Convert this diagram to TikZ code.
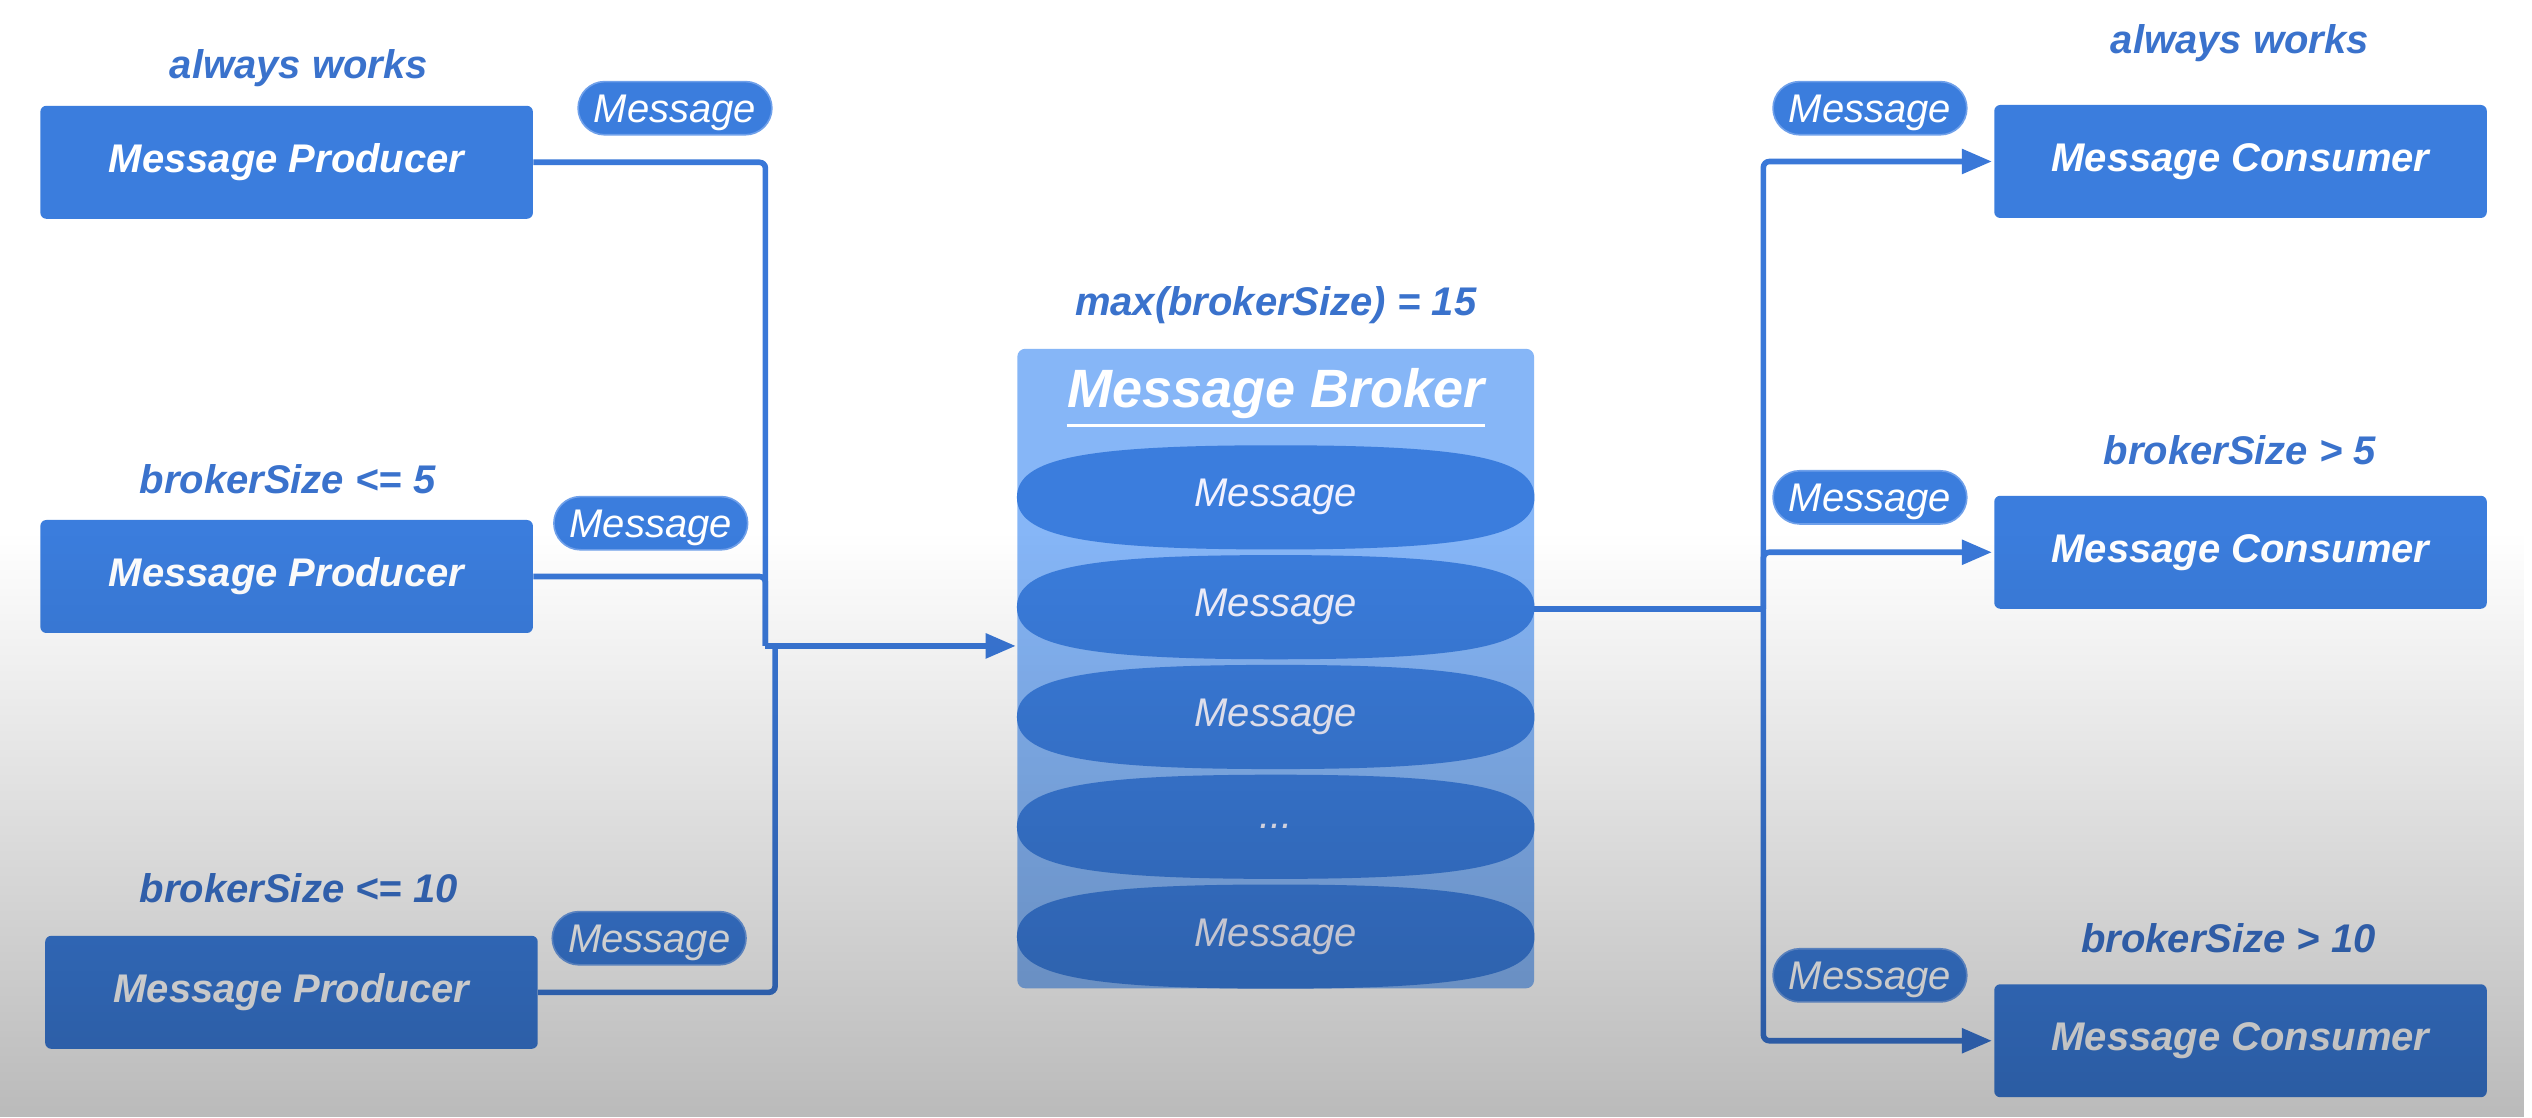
\documentclass[tikz,border=0pt]{standalone}
\usepackage{fontspec}
\setmainfont{Liberation Sans}
\usetikzlibrary{arrows.meta,shapes.geometric,fadings}
\definecolor{boxblue}{HTML}{3B7DDD}
\definecolor{lblblue}{HTML}{3A72CC}
\definecolor{brokerbg}{HTML}{86B6F7}
\definecolor{lineblue}{HTML}{3A78D8}
\definecolor{pillborder}{HTML}{6FA0EA}
\tikzfading[name=fadedown, top color=transparent!100, bottom color=transparent!0]
% full ellipse-like (superellipse) outline drawn around a named node
\newcommand\fullell[1]{%
  \fill[boxblue] (#1.west)
    .. controls ([yshift=19.5pt]#1.west) and ([xshift=-96pt]#1.north) .. (#1.north)
    .. controls ([xshift=96pt]#1.north) and ([yshift=19.5pt]#1.east) .. (#1.east)
    .. controls ([yshift=-19.5pt]#1.east) and ([xshift=96pt]#1.south) .. (#1.south)
    .. controls ([xshift=-96pt]#1.south) and ([yshift=-19.5pt]#1.west) .. (#1.west) -- cycle;}
\begin{document}
\begin{tikzpicture}[x=0.8075pt,y=-0.8075pt,
  actor/.style={fill=boxblue, rounded corners=3pt, minimum width=246.3pt, minimum height=56.5pt,
    inner sep=0pt, text=white, font=\fontsize{20}{24}\selectfont\bfseries\itshape},
  pill/.style={fill=boxblue, draw=pillborder, line width=0.8pt, rounded corners=13.3pt,
    minimum width=96.9pt, minimum height=26.6pt, inner sep=0pt, text=white,
    text height=14.5pt, text depth=0pt,
    font=\fontsize{20}{24}\selectfont\itshape},
  lbl/.style={text=lblblue, font=\fontsize{20}{24}\selectfont\bfseries\itshape, inner sep=0pt},
  msg/.style={rectangle, minimum width=258.4pt, minimum height=51.7pt, inner sep=0pt,
    text=white!95!blue, font=\fontsize{20}{24}\selectfont\itshape},
  conn/.style={draw=lineblue, line width=2.8pt, rounded corners=3pt},
  arr/.style={conn, -{Triangle[length=15pt,width=12pt]}}
]
% background
\fill[white] (0,0) rectangle (1568,692);
\useasboundingbox (0,0) rectangle (1568,692);

% broker
\node[fill=brokerbg, rounded corners=4pt, minimum width=258.4pt, minimum height=319.8pt, inner sep=0pt] (bro) at (790,414) {};
\node[text=white, font=\fontsize{27}{32}\selectfont\bfseries\itshape, inner sep=0pt] (btitle) at (790,244) {Message Broker};
\draw[white, line width=1.8pt] ([yshift=-3pt]btitle.south west) -- ([yshift=-3pt]btitle.south east);
\node[lbl] (bmax) at (790,189) {max(brokerSize) = 15};
\node[msg] (m1) at (790,308) {};
\node[msg] (m2) at (790,376) {};
\node[msg] (m3) at (790,444) {};
\node[msg] (m4) at (790,512) {};
\node[msg] (m5) at (790,580) {};
\fullell{m1}\fullell{m2}\fullell{m3}\fullell{m4}\fullell{m5}
\node[msg] at (m1) {Message};
\node[msg] at (m2) {Message};
\node[msg] at (m3) {Message};
\node[msg] at (m4) {...};
\node[msg] at (m5) {Message};

% producers
\node[actor] (p1) at (177.5,100.5) {Message Producer};
\node[actor] (p2) at (177.5,357) {Message Producer};
\node[actor] (p3) at (180.5,614.5) {Message Producer};
\node[lbl] (lp1) at (185,42) {always works};
\node[lbl] (lp2) at (178,297) {brokerSize <= 5};
\node[lbl] (lp3) at (185,550) {brokerSize <= 10};
\node[pill] (q1) at (418,67) {Message};
\node[pill] (q2) at (403,324) {Message};
\node[pill] (q3) at (402,581) {Message};

% consumers
\node[actor] (c1) at (1387.5,100) {Message Consumer};
\node[actor] (c2) at (1387.5,342) {Message Consumer};
\node[actor] (c3) at (1387.5,644.5) {Message Consumer};
\node[lbl] (lc1) at (1387,27) {always works};
\node[lbl] (lc2) at (1387,279) {brokerSize > 5};
\node[lbl] (lc3) at (1380,581) {brokerSize > 10};
\node[pill] (r1) at (1158,67) {Message};
\node[pill] (r2) at (1158,308) {Message};
\node[pill] (r3) at (1158,604) {Message};

% junctions
\coordinate (jl) at (474,400);
\coordinate (jl3) at (480,400);
\coordinate (bin) at (629,400);
\coordinate (jr) at (1092,377);

% left connectors
\draw[conn] (p1.east) -| (jl);
\draw[conn] (p2.east) -| (jl);
\draw[conn] (p3.east) -| (jl3);
\draw[arr] (jl) -- (bin);

% right connectors
\draw[conn] (m2.east |- jr) -- (jr);
\draw[arr, shorten >=1pt] (jr) |- (c1.west);
\draw[arr, shorten >=1pt] (jr) |- (c2.west);
\draw[arr, shorten >=1pt] (jr) |- (c3.west);

% grey vignette towards the bottom
\fill[black, opacity=0.27, path fading=fadedown] (0,330) rectangle (1568,692);
\end{tikzpicture}
\end{document}
